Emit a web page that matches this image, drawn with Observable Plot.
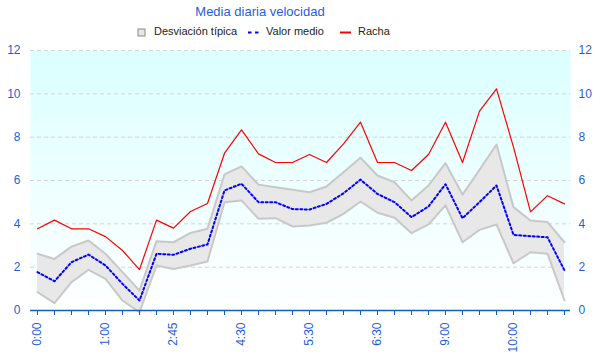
<!DOCTYPE html>
<html>
<head>
<meta charset="utf-8">
<script src="https://cdn.jsdelivr.net/npm/d3@7"></script>
<script src="https://cdn.jsdelivr.net/npm/@observablehq/plot@0.6"></script>
<style>
  body { margin: 0; background: #fff; font-family: "Liberation Sans", Arial, sans-serif; }
  #header { position: relative; width: 600px; height: 40px; }
  #title { position: absolute; left: 0; top: 5px; width: 520px; text-align: center; font-size: 13px; line-height: 13px; color: #1f5fd6; white-space: nowrap; }
  .lg { position: absolute; top: 26px; font-size: 11px; line-height: 11px; color: #222; white-space: nowrap; }
  .sw { position: absolute; }
</style>
</head>
<body>
<div id="header">
  <div id="title">Media diaria velocidad</div>
  <svg class="sw" style="left:137px;top:28px" width="10" height="10"><rect x="1" y="1" width="7" height="7" fill="#e6e6e6" stroke="#8a8a8a" stroke-width="1"/></svg>
  <div class="lg" style="left:154px">Desviación típica</div>
  <svg class="sw" style="left:246px;top:28px" width="14" height="8"><line x1="2" y1="4.5" x2="13" y2="4.5" stroke="#0000ff" stroke-width="2" stroke-dasharray="3.5,3.5"/></svg>
  <div class="lg" style="left:266px">Valor medio</div>
  <svg class="sw" style="left:339px;top:28px" width="14" height="8"><line x1="1" y1="4.5" x2="12" y2="4.5" stroke="#ff0000" stroke-width="2"/></svg>
  <div class="lg" style="left:358px">Racha</div>
</div>
<div id="chart"></div>
<script>
const times = ["0:00","0:15","0:30","0:45","1:00","1:15","1:30","1:45","2:45","3:00","3:30","4:15","4:30","4:45","5:00","5:15","5:30","5:45","6:00","6:15","6:30","7:00","7:30","8:30","9:00","9:15","9:30","9:45","10:00","10:15","10:30","10:45"];
const racha = [3.77,4.17,3.77,3.77,3.41,2.77,1.89,4.17,3.8,4.57,4.94,7.26,8.34,7.23,6.83,6.83,7.2,6.83,7.69,8.69,6.83,6.83,6.46,7.2,8.69,6.83,9.2,10.23,7.54,4.55,5.3,4.92];
const media = [1.77,1.35,2.23,2.58,2.08,1.23,0.46,2.62,2.57,2.85,3.05,5.54,5.85,5.0,5.0,4.68,4.66,4.92,5.41,6.04,5.38,5.0,4.31,4.8,5.83,4.26,5.0,5.77,3.49,3.43,3.38,1.85];
const desvSup = [2.62,2.38,2.95,3.23,2.62,1.77,0.92,3.2,3.15,3.58,3.77,6.28,6.65,5.81,5.69,5.57,5.46,5.72,6.38,7.05,6.23,5.92,5.08,5.77,6.8,5.35,6.49,7.66,4.77,4.15,4.08,3.15];
const desvInf = [0.85,0.34,1.31,1.88,1.46,0.46,-0.08,2.08,1.92,2.08,2.26,5.0,5.08,4.23,4.26,3.88,3.92,4.05,4.46,5.03,4.51,4.28,3.57,3.97,4.85,3.15,3.72,3.97,2.18,2.69,2.62,0.46];
const yTicks = [0,2,4,6,8,10,12];
const gridTicks = [2,4,6,8,10,12];

const data = times.map((t, i) => ({t, racha: racha[i], media: media[i], sup: desvSup[i], inf: desvInf[i]}));

const axisBlue = "#1f5fd6";
const lineBlue = "#0b62c8";

const svg = Plot.plot({
  width: 600,
  height: 320,
  marginTop: 10,
  marginBottom: 50,
  marginLeft: 30,
  marginRight: 30,
  style: {fontFamily: "Liberation Sans, Arial, sans-serif", fontSize: "12px", background: "transparent"},
  x: {type: "point", domain: times, padding: 0},
  y: {domain: [0, 12]},
  marks: [
    Plot.frame({fill: "url(#bgGrad)", stroke: "none"}),
    Plot.gridY(gridTicks, {stroke: "#d4d4d4", strokeOpacity: 1, strokeDasharray: "4,3"}),
    Plot.areaY(data, {x: "t", y1: "inf", y2: "sup", fill: "#e8e8e8", fillOpacity: 1, curve: "linear"}),
    Plot.line(data, {x: "t", y: "sup", stroke: "#c8c8c8", strokeWidth: 2}),
    Plot.line(data, {x: "t", y: "inf", stroke: "#c8c8c8", strokeWidth: 2}),
    Plot.line(data, {x: "t", y: "racha", stroke: "#ff0000", strokeWidth: 1.2}),
    Plot.line(data, {x: "t", y: "media", stroke: "#0000ff", strokeWidth: 2, strokeDasharray: "2,2.5"}),
    Plot.ruleY([0], {stroke: lineBlue, strokeWidth: 1.5}),
    Plot.axisX({ticks: times, tickFormat: d => times.indexOf(d) % 4 === 0 ? d : "", tickRotate: -90, tickSize: 5, tickPadding: 7, color: axisBlue, stroke: lineBlue, fontSize: 12, label: null}),
    Plot.axisY({anchor: "left", ticks: yTicks, tickSize: 0, tickPadding: 10, color: axisBlue, fontSize: 12, label: null}),
    Plot.axisY({anchor: "right", ticks: yTicks, tickSize: 0, tickPadding: 8, color: axisBlue, fontSize: 12, label: null})
  ]
});

const defs = d3.select(svg).insert("defs", ":first-child");
const g = defs.append("linearGradient").attr("id", "bgGrad").attr("x1", 0).attr("y1", 0).attr("x2", 0).attr("y2", 1);
g.append("stop").attr("offset", "0%").attr("stop-color", "#dbffff");
g.append("stop").attr("offset", "100%").attr("stop-color", "#ffffff");

document.getElementById("chart").appendChild(svg);
</script>
</body>
</html>
